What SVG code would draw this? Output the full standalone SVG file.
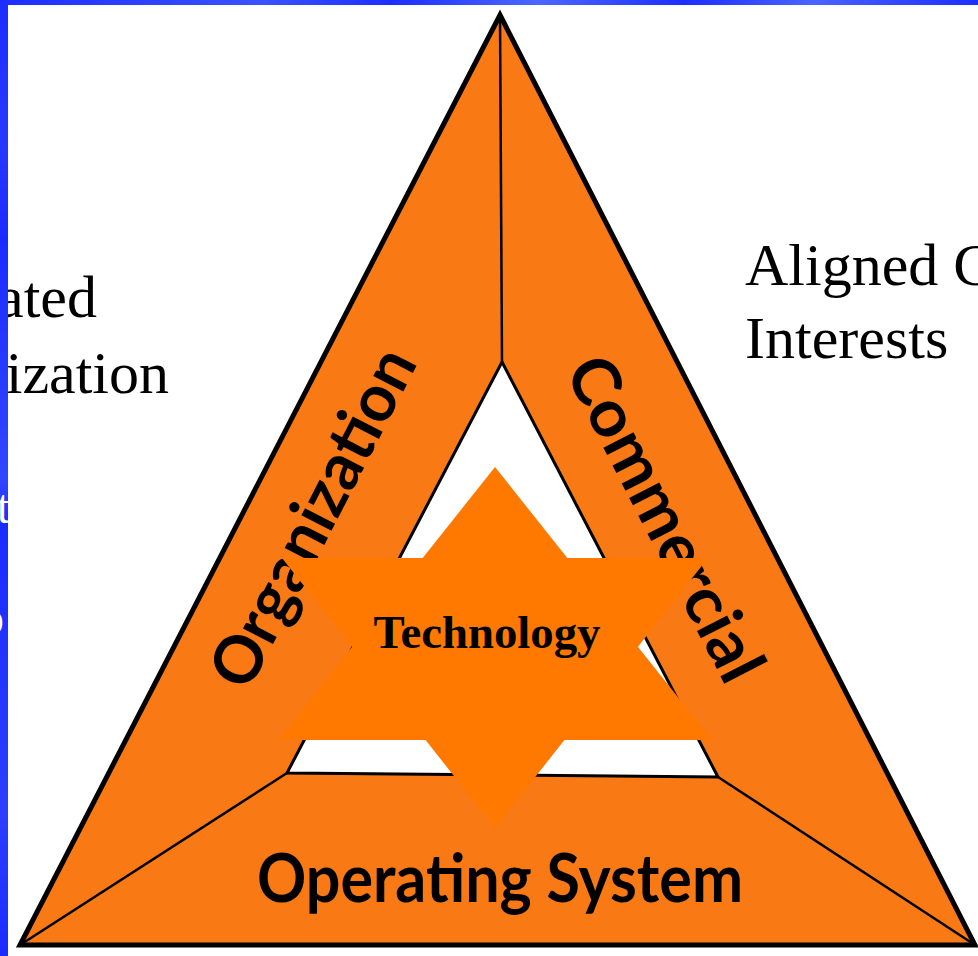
<svg xmlns="http://www.w3.org/2000/svg" width="978" height="956" viewBox="0 0 978 956">
<defs>
<linearGradient id="blueV" x1="0" y1="0" x2="0" y2="1">
<stop offset="0" stop-color="#1c2eff"/>
<stop offset="0.15" stop-color="#2638ff"/>
<stop offset="0.25" stop-color="#1a2bff"/>
<stop offset="0.5" stop-color="#3047ff"/>
<stop offset="0.55" stop-color="#1a2bff"/>
<stop offset="0.85" stop-color="#2a3fff"/>
<stop offset="1" stop-color="#1a2bff"/>
</linearGradient>
<linearGradient id="blueH" x1="0" y1="0" x2="1" y2="0">
<stop offset="0" stop-color="#1c2eff"/>
<stop offset="0.27" stop-color="#3a52ff"/>
<stop offset="0.4" stop-color="#1c2eff"/>
<stop offset="0.55" stop-color="#4d68ff"/>
<stop offset="0.7" stop-color="#1c2eff"/>
<stop offset="0.83" stop-color="#4a64ff"/>
<stop offset="1" stop-color="#1c2eff"/>
</linearGradient>
</defs>
<style>
.seg{fill:#f97a14;stroke:none}
.outer{fill:none;stroke:#000;stroke-width:5;stroke-linejoin:miter}
.inner{fill:#fff;stroke:#000;stroke-width:3;stroke-linejoin:miter}
.div{stroke:#000;stroke-width:2.5;fill:none}
.lbl{font-family:Lato,"Open Sans",sans-serif;font-weight:bold;font-size:66px;fill:#000}
.serif{font-family:"Liberation Serif","Times New Roman",serif;font-size:60px;fill:#000}
.wserif{font-family:"Liberation Serif","Times New Roman",serif;font-size:48px;fill:#fff}
.star{fill:#ff7800}
</style>
<rect x="0" y="0" width="978" height="956" fill="#fff"/>

<g id="side-texts">
<text class="serif" x="97" y="317" text-anchor="end">ated</text>
<text class="serif" x="169" y="393" text-anchor="end">ization</text>
<text class="serif" x="745" y="285">Aligned C</text>
<text class="serif" x="745" y="358">Interests</text>
</g>

<g id="node-organization">
<polygon class="seg" points="500,15 502,362 287,773 20,945"/>
<text class="lbl" transform="translate(333,528) rotate(-62.7)" text-anchor="middle" textLength="372" lengthAdjust="spacingAndGlyphs">Organization</text>
</g>
<g id="node-commercial">
<polygon class="seg" points="500,15 975,945 718,777 502,362"/>
<text class="lbl" transform="translate(645,529) rotate(62.9)" text-anchor="middle" textLength="356" lengthAdjust="spacingAndGlyphs">Commercial</text>
</g>
<g id="node-operating-system">
<polygon class="seg" points="20,945 287,773 718,777 975,945"/>
<text class="lbl" x="500" y="902" text-anchor="middle" textLength="486" lengthAdjust="spacingAndGlyphs">Operating System</text>
</g>

<g id="connectors">
<polygon class="inner" points="502,362 718,777 287,773"/>
<line class="div" x1="500" y1="15" x2="502" y2="362" stroke-width="3.5"/>
<line class="div" x1="20" y1="945" x2="287" y2="773"/>
<line class="div" x1="975" y1="945" x2="718" y2="777"/>
<polygon class="outer" points="500,15 975,945 20,945"/>
</g>

<g id="node-technology">
<polygon class="star" points="495,467 712,740 278,740"/>
<polygon class="star" points="282,558 708,558 495,828"/>
<text x="487" y="648" text-anchor="middle" font-family="'Liberation Serif','Times New Roman',serif" font-weight="bold" font-size="46" textLength="227" lengthAdjust="spacingAndGlyphs">Technology</text>
</g>

<g id="frame">
<rect x="0" y="0" width="8" height="956" fill="url(#blueV)"/>
<rect x="0" y="0" width="978" height="5" fill="url(#blueH)"/>
<text class="wserif" x="10" y="523" text-anchor="end">t</text>
<text class="wserif" x="4" y="634" text-anchor="end">o</text>
</g>
</svg>
